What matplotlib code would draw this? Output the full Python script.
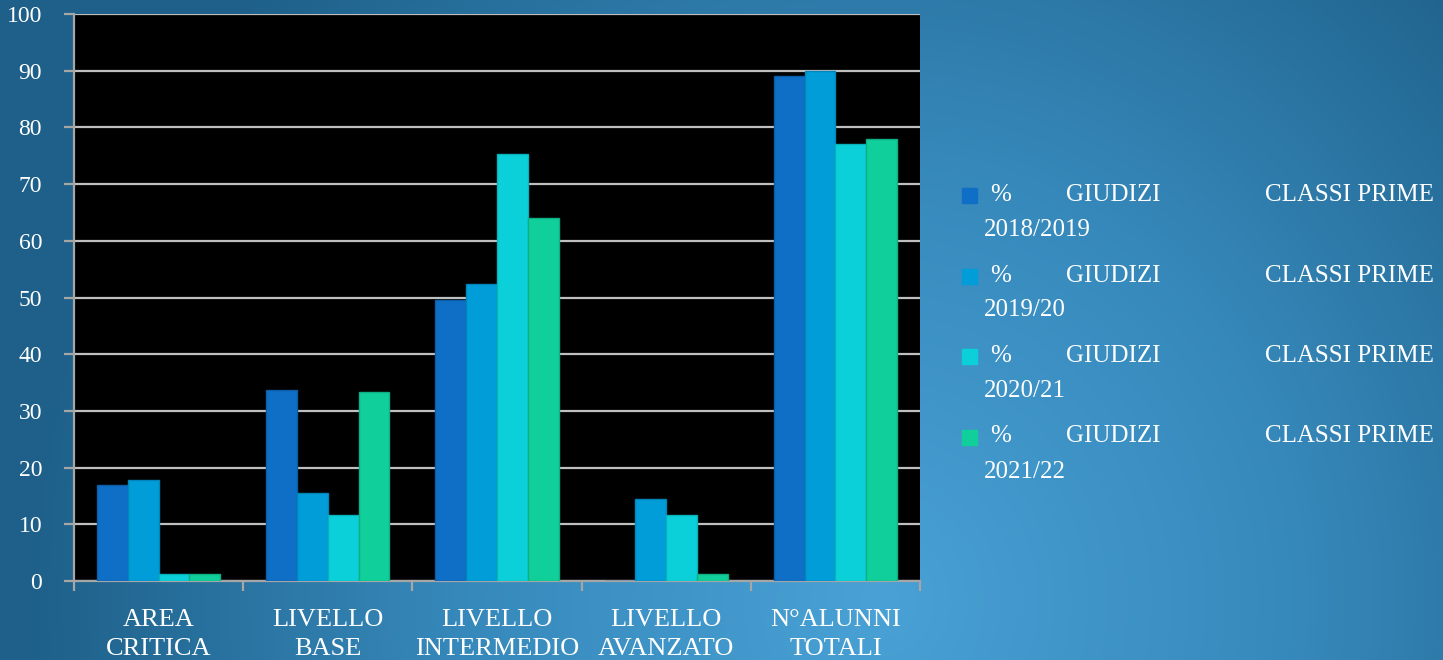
import numpy as np
import matplotlib.pyplot as plt
from matplotlib.colors import LinearSegmentedColormap

categories = ['AREA\nCRITICA', 'LIVELLO\nBASE', 'LIVELLO\nINTERMEDIO', 'LIVELLO\nAVANZATO', 'N°ALUNNI\nTOTALI']
series_names = ['% GIUDIZI CLASSI PRIME 2018/2019', '% GIUDIZI CLASSI PRIME 2019/20',
                '% GIUDIZI CLASSI PRIME 2020/21', '% GIUDIZI CLASSI PRIME 2021/22']
v2018 = [16.9, 33.7, 49.6, 0, 89]
v2019 = [17.8, 15.5, 52.3, 14.4, 90]
v2020 = [1.3, 11.7, 75.3, 11.7, 77]
v2021 = [1.3, 33.4, 64.0, 1.3, 78]
yticks = [0, 10, 20, 30, 40, 50, 60, 70, 80, 90, 100]

colors = ['#0F6FC6', '#009DD9', '#0BD0D9', '#10CF9B']
edges = ['#0B5DA8', '#0086BA', '#09B2BA', '#0DB085']

plt.rcParams['font.family'] = ['Liberation Serif', 'DejaVu Serif']

fig = plt.figure(figsize=(14.43, 6.6), dpi=100)

# background gradient
bg = fig.add_axes([0, 0, 1, 1], zorder=-10)
W, H = 1443, 660
xx, yy = np.meshgrid(np.arange(W), np.arange(H))
d = np.sqrt(((xx - 880) / 900.0) ** 2 + ((yy - 600) / 950.0) ** 2)
d = np.clip(d / 0.95, 0, 1)
cmap = LinearSegmentedColormap.from_list('bg', ['#49A1D5', '#3688BA', '#1E6089'])
bg.imshow(d, cmap=cmap, aspect='auto', extent=[0, 1, 0, 1], vmin=0, vmax=1)
bg.axis('off')

ax = fig.add_axes([74 / W, 1 - 581 / H, 846 / W, 567 / H])
ax.set_facecolor('black')

data = [v2018, v2019, v2020, v2021]
x = np.arange(len(categories))
bw = 0.182
for i, vals in enumerate(data):
    ax.bar(x + (i - 1.5) * bw, vals, width=bw, color=colors[i], edgecolor=edges[i],
           linewidth=1, zorder=3)

ax.set_xlim(-0.5, len(categories) - 0.5)
ax.set_ylim(0, 100)
ax.set_yticks(yticks)
ax.set_yticklabels([str(t) for t in yticks], color='white', fontsize=17)
ax.yaxis.grid(True, color='#BFBFBF', linewidth=1.6, zorder=1)
ax.set_axisbelow(True)

ax.set_xticks(x)
ax.set_xticklabels(categories, color='white', fontsize=19, linespacing=1.45)
ax.set_xticks(np.arange(len(categories) + 1) - 0.5, minor=True)
ax.tick_params(axis='x', which='major', length=0, pad=20)
ax.tick_params(axis='x', which='minor', length=7, width=1.6, color='#A6A6A6')
ax.tick_params(axis='y', length=7, width=1.6, color='#A6A6A6', pad=16)
for s in ['top', 'right']:
    ax.spines[s].set_visible(False)
for s in ['left', 'bottom']:
    ax.spines[s].set_color('#A6A6A6')
    ax.spines[s].set_linewidth(1.6)

# legend drawn as justified text
for i, name in enumerate(series_names):
    pct, giud, classi, prime, year = name.split(' ')
    y0 = 1 - (195 + i * 80.5) / H
    fig.patches.append(plt.Rectangle((962 / W, y0 - 8 / H), 15 / W, 15 / H,
                                     transform=fig.transFigure, color=colors[i]))
    fig.text(990 / W, y0, pct, color='white', fontsize=18, va='center')
    fig.text(1066 / W, y0, giud, color='white', fontsize=18, va='center')
    fig.text(1434 / W, y0, classi + ' ' + prime, color='white', fontsize=18, va='center', ha='right')
    fig.text(984 / W, y0 - 35 / H, year, color='white', fontsize=18, va='center')

fig.savefig('out.png', dpi=100)
